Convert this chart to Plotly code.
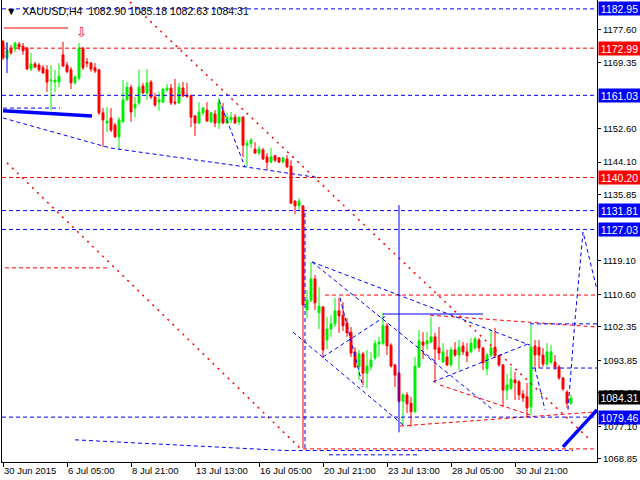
import plotly.graph_objects as go

# XAUUSD H4 bars, oldest first (bar index is the x coordinate)
opens = [
    1174.6, 1170.5, 1172.8, 1172.8, 1174.0, 1173.5, 1173.0, 1167.7, 1169.0, 1168.7,
    1168.0, 1167.5, 1164.7, 1164.4, 1164.4, 1171.3, 1168.7, 1167.5, 1164.2, 1165.4,
    1173.0, 1169.5, 1169.2, 1168.0, 1167.5, 1156.6, 1154.0, 1155.3, 1153.5, 1150.5,
    1154.3, 1159.9, 1163.1, 1157.8, 1159.1, 1163.4, 1161.6, 1164.4, 1160.6, 1159.3,
    1159.3, 1162.4, 1162.9, 1159.3, 1159.1, 1162.9, 1161.1, 1160.9, 1155.8, 1154.0,
    1156.6, 1157.3, 1154.3, 1156.3, 1154.0, 1157.1, 1154.0, 1154.8, 1155.5, 1154.3,
    1155.5, 1148.4, 1148.9, 1147.4, 1146.4, 1147.2, 1145.4, 1144.1, 1145.7, 1145.2,
    1144.1, 1144.9, 1143.1, 1134.2, 1133.0, 1133.0, 1106.6, 1109.1, 1114.5, 1105.9,
    1107.4, 1099.0, 1101.8, 1103.1, 1106.4, 1105.3, 1103.3, 1101.0, 1096.0, 1092.2,
    1095.5, 1090.6, 1092.2, 1094.4, 1098.0, 1098.2, 1102.6, 1097.7, 1092.7, 1090.6,
    1083.5, 1085.1, 1083.0, 1080.8, 1092.2, 1098.5, 1098.0, 1098.5, 1099.8, 1097.0,
    1093.4, 1094.7, 1092.7, 1096.5, 1095.2, 1097.5, 1096.0, 1096.0, 1097.0, 1099.0,
    1097.0, 1091.7, 1095.2, 1097.2, 1095.0, 1092.7, 1086.3, 1086.8, 1088.9, 1088.4,
    1085.3, 1084.6, 1082.0, 1097.5, 1097.2, 1095.2, 1092.9, 1093.4, 1093.4, 1092.2,
    1089.4, 1085.8, 1082.90,
]
highs = [
    1175.1, 1174.3, 1173.8, 1174.6, 1174.6, 1174.3, 1173.3, 1171.8, 1169.5, 1169.2,
    1168.7, 1168.7, 1168.7, 1167.5, 1169.2, 1174.6, 1169.5, 1168.2, 1166.2, 1174.3,
    1173.3, 1170.5, 1169.5, 1169.2, 1167.7, 1157.8, 1158.1, 1157.8, 1154.0, 1155.5,
    1164.9, 1164.4, 1163.7, 1160.6, 1167.5, 1164.2, 1167.7, 1164.9, 1161.6, 1161.9,
    1162.9, 1163.9, 1163.9, 1165.2, 1164.2, 1164.4, 1164.2, 1161.1, 1156.0, 1159.3,
    1158.1, 1159.3, 1156.8, 1157.3, 1160.4, 1159.1, 1156.6, 1156.8, 1156.3, 1155.6,
    1155.8, 1149.7, 1150.2, 1149.2, 1148.2, 1147.7, 1146.4, 1147.7, 1145.9, 1145.4,
    1145.4, 1145.9, 1144.6, 1134.5, 1135.0, 1133.2, 1111.7, 1118.8, 1115.5, 1112.4,
    1107.6, 1104.8, 1105.3, 1109.7, 1109.7, 1108.6, 1104.6, 1102.3, 1097.2, 1096.5,
    1096.0, 1096.5, 1096.0, 1099.0, 1099.8, 1105.9, 1103.3, 1098.2, 1092.9, 1090.9,
    1085.6, 1085.8, 1084.6, 1094.7, 1101.5, 1101.0, 1101.0, 1104.8, 1100.8, 1102.3,
    1098.2, 1096.5, 1097.2, 1098.5, 1099.0, 1098.5, 1098.2, 1099.5, 1099.8, 1099.5,
    1097.2, 1095.7, 1101.5, 1102.1, 1095.2, 1092.9, 1090.4, 1092.2, 1090.9, 1088.9,
    1086.3, 1088.1, 1102.8, 1099.0, 1099.0, 1097.0, 1098.2, 1097.7, 1095.2, 1092.7,
    1089.6, 1086.3, 1085.18,
]
lows = [
    1170.0, 1170.0, 1171.3, 1172.0, 1172.5, 1171.3, 1167.5, 1167.2, 1168.0, 1167.0,
    1166.5, 1161.9, 1157.3, 1161.9, 1163.1, 1168.2, 1166.7, 1162.6, 1163.7, 1164.9,
    1167.5, 1168.2, 1167.0, 1166.7, 1156.0, 1147.9, 1151.7, 1151.7, 1150.3, 1147.2,
    1154.1, 1159.6, 1154.3, 1155.5, 1158.6, 1161.4, 1159.9, 1160.1, 1158.1, 1157.1,
    1159.1, 1161.9, 1158.6, 1158.6, 1158.9, 1160.6, 1160.5, 1153.0, 1150.7, 1153.8,
    1156.0, 1154.3, 1154.0, 1153.0, 1152.5, 1153.8, 1153.8, 1154.0, 1153.9, 1153.5,
    1145.4, 1142.9, 1147.7, 1146.2, 1145.9, 1144.6, 1142.1, 1143.9, 1144.1, 1143.9,
    1143.9, 1142.6, 1133.5, 1130.9, 1132.0, 1071.6, 1104.6, 1108.6, 1106.6, 1101.8,
    1094.4, 1096.7, 1099.8, 1102.3, 1100.8, 1101.3, 1099.8, 1094.7, 1091.9, 1088.9,
    1087.6, 1086.8, 1091.4, 1093.9, 1094.7, 1097.7, 1095.2, 1092.0, 1087.1, 1083.2,
    1077.5, 1080.5, 1077.0, 1080.5, 1091.9, 1094.2, 1096.5, 1098.2, 1088.1, 1093.9,
    1093.2, 1092.4, 1092.2, 1094.7, 1091.4, 1095.2, 1093.4, 1095.7, 1096.5, 1096.0,
    1091.4, 1090.1, 1094.7, 1094.4, 1092.2, 1082.0, 1083.8, 1086.3, 1083.8, 1083.8,
    1083.3, 1079.5, 1080.0, 1092.2, 1091.9, 1092.2, 1092.2, 1092.9, 1091.4, 1088.9,
    1086.1, 1081.8, 1082.63,
]
closes = [
    1170.5, 1172.5, 1171.8, 1174.3, 1173.3, 1172.3, 1167.7, 1169.0, 1168.2, 1167.5,
    1166.7, 1164.4, 1164.9, 1164.9, 1165.9, 1168.5, 1167.0, 1164.2, 1165.7, 1173.0,
    1168.0, 1169.2, 1167.7, 1167.2, 1156.6, 1154.8, 1154.5, 1152.2, 1150.5, 1154.8,
    1159.9, 1163.1, 1156.8, 1158.8, 1163.1, 1161.6, 1164.2, 1160.6, 1158.6, 1159.9,
    1162.6, 1162.9, 1159.1, 1159.1, 1163.1, 1160.9, 1160.7, 1155.5, 1154.0, 1156.8,
    1157.8, 1154.5, 1156.6, 1154.0, 1159.3, 1154.0, 1155.5, 1155.5, 1154.0, 1155.5,
    1148.4, 1148.9, 1149.7, 1146.4, 1147.4, 1144.9, 1144.1, 1145.4, 1144.6, 1144.1,
    1145.2, 1142.9, 1133.7, 1133.0, 1134.2, 1107.9, 1109.1, 1114.5, 1108.4, 1107.6,
    1096.5, 1101.8, 1103.1, 1106.4, 1105.1, 1102.6, 1100.8, 1095.7, 1092.2, 1095.5,
    1090.6, 1092.4, 1093.9, 1098.2, 1098.5, 1102.6, 1097.5, 1092.4, 1090.1, 1083.5,
    1085.1, 1082.8, 1080.8, 1092.4, 1098.8, 1097.7, 1098.8, 1099.8, 1096.7, 1095.7,
    1096.0, 1092.7, 1096.5, 1095.2, 1097.2, 1096.0, 1095.0, 1098.2, 1099.3, 1097.0,
    1093.2, 1095.2, 1097.0, 1095.0, 1092.7, 1086.3, 1087.6, 1089.1, 1088.1, 1085.1,
    1084.3, 1081.8, 1097.2, 1095.2, 1095.2, 1092.9, 1096.0, 1096.0, 1092.2, 1089.4,
    1086.6, 1083.0, 1084.31,
]

# time axis labels (every 16 bars)
date_ticks = [0, 16, 32, 48, 64, 80, 96, 112, 128]
date_labels = ["30 Jun 2015", "6 Jul 05:00", "8 Jul 21:00", "13 Jul 13:00", "16 Jul 05:00",
               "20 Jul 21:00", "23 Jul 13:00", "28 Jul 05:00", "30 Jul 21:00"]

price_ticks = [1177.60, 1169.35, 1152.60, 1144.10, 1135.85, 1119.10, 1110.60,
               1102.35, 1093.85, 1085.60, 1077.10, 1068.85]

# levels with price tags on the right scale
blue_levels = [1182.95, 1161.03, 1131.81, 1127.03, 1079.46]
red_levels = [1172.99, 1140.20]
last_price = 1084.31

# drawn objects: (bar, price) polylines
red_dotted = [
    [(31.75, 1184.7), (146.75, 1073.7)],
    [(1, 1143.9), (74.25, 1071.6)],
]
red_dashed = [
    [(0.5, 1117.3), (26.25, 1117.3)],
    [(80.5, 1110.4), (148.5, 1110.4)],
    [(75, 1071.4), (148.5, 1071.4)],
    [(106.75, 1105.3), (148.5, 1102.3)],
    [(99.25, 1077.2), (148.5, 1080.8)],
    [(109.25, 1087.6), (131.75, 1080.0)],
]
blue_dashed = [
    [(0, 1157.8), (14.25, 1157.8)],
    [(0, 1155.3), (26.75, 1147.7), (60.5, 1142.9), (79.25, 1140.1)],
    [(54, 1159.9), (60.5, 1142.9)],
    [(75.5, 1131.2), (75.5, 1071.0)],
    [(18, 1073.7), (70.5, 1071.0), (142.5, 1071.0)],
    [(81.5, 1069.9), (104, 1069.9)],
    [(77.25, 1118.8), (131.75, 1097.7)],
    [(77.25, 1118.8), (108.5, 1093.2)],
    [(72.5, 1101.0), (100, 1077.5)],
    [(80, 1094.7), (96, 1105.3)],
    [(84.25, 1109.7), (90, 1087.1)],
    [(107.5, 1088.4), (131.75, 1098.2)],
    [(105, 1095.7), (122.5, 1081.3)],
    [(131.75, 1103.1), (148.5, 1103.1)],
    [(132.25, 1091.9), (148.5, 1091.9)],
    [(133, 1091.9), (135.5, 1081.3)],
    [(141.25, 1081.3), (143, 1104.1), (145, 1126.4), (148.5, 1111.7)],
]
blue_solid = [
    [(1, 1174.5), (1, 1166.7)],
    [(95, 1105.6), (120, 1105.6)],
    [(99, 1133.2), (99, 1075.6)],
]
blue_thick = [
    [(0, 1157.1), (22.25, 1155.8)],
    [(140, 1071.9), (148.5, 1081.3)],
]
red_solid = [
    [(0.25, 1178.1), (16.25, 1178.1)],
]

BLUE = "#0000FF"
RED = "#FF0000"
FONT = "Liberation Sans"
FS = 9.5

fig = go.Figure()

fig.add_trace(go.Candlestick(
    x=list(range(len(opens))), open=opens, high=highs, low=lows, close=closes,
    increasing=dict(line=dict(color="#00F000", width=1), fillcolor="#00F000"),
    decreasing=dict(line=dict(color=RED, width=1), fillcolor=RED),
    showlegend=False, hoverinfo="skip",
))


def add_path(pts, color, dash, width):
    fig.add_trace(go.Scatter(
        x=[p[0] for p in pts], y=[p[1] for p in pts], mode="lines",
        line=dict(color=color, dash=dash, width=width),
        showlegend=False, hoverinfo="skip",
    ))


for pts in red_dotted:
    add_path(pts, RED, "2px,5px", 1.5)
for pts in red_dashed:
    add_path(pts, RED, "4px,3px", 1)
for pts in blue_dashed:
    add_path(pts, BLUE, "4px,3px", 1)
for pts in blue_solid:
    add_path(pts, BLUE, "solid", 1)
for pts in blue_thick:
    add_path(pts, BLUE, "solid", 3.5)
for pts in red_solid:
    add_path(pts, RED, "solid", 1)

# full-width horizontal levels
for lv in blue_levels:
    fig.add_shape(type="line", xref="paper", x0=0, x1=1, y0=lv, y1=lv,
                  line=dict(color=BLUE, width=1, dash="4px,3px"))
for lv in red_levels:
    fig.add_shape(type="line", xref="paper", x0=0, x1=1, y0=lv, y1=lv,
                  line=dict(color=RED, width=1, dash="4px,3px"))

# price tags on the scale
tags = [(lv, BLUE) for lv in blue_levels] + [(lv, RED) for lv in red_levels] + [(last_price, "#000000")]
for lv, col in tags:
    fig.add_annotation(
        xref="paper", x=1, xanchor="left", xshift=1, y=lv, yref="y",
        text=f"{lv:.2f}", showarrow=False, bgcolor=col, borderpad=0,
        width=41, height=13, align="center",
        font=dict(family=FONT, size=FS + 1, color="white"),
    )

# sell arrow
fig.add_annotation(x=19.5, y=1177.0, text="⇩", showarrow=False,
                   font=dict(family="DejaVu Sans", size=13, color=RED))

# header
fig.add_annotation(xref="paper", yref="paper", x=0, y=1, xanchor="left", yanchor="top",
                   xshift=2, yshift=-3, showarrow=False,
                   text="▼  XAUUSD,H4  1082.90 1085.18 1082.63 1084.31",
                   font=dict(family=FONT, size=FS + 1, color="black"))

fig.update_layout(
    width=640, height=480,
    margin=dict(l=2, r=43, t=0, b=18),
    paper_bgcolor="white", plot_bgcolor="white",
    showlegend=False,
    xaxis=dict(
        range=[-0.25, 148.5], rangeslider=dict(visible=False),
        tickvals=date_ticks, ticktext=date_labels, ticklabelposition="outside right",
        tickangle=0, ticks="outside", ticklen=4, tickcolor="black",
        showgrid=False, zeroline=False, showline=True, linecolor="black", mirror=True,
        tickfont=dict(family=FONT, size=FS, color="black"),
    ),
    yaxis=dict(
        range=[1068.08, 1185.2], side="right",
        tickvals=price_ticks, ticktext=[f"{v:.2f}" for v in price_ticks],
        ticks="outside", ticklen=3, tickcolor="black",
        showgrid=False, zeroline=False, showline=True, linecolor="black", mirror=True,
        tickfont=dict(family=FONT, size=FS, color="black"),
    ),
)

# page body has a default margin; remove it so the figure sits at the window corner
fig.write_html("out.html", config={"displayModeBar": False},
               post_script="document.body.style.margin='0px';")
